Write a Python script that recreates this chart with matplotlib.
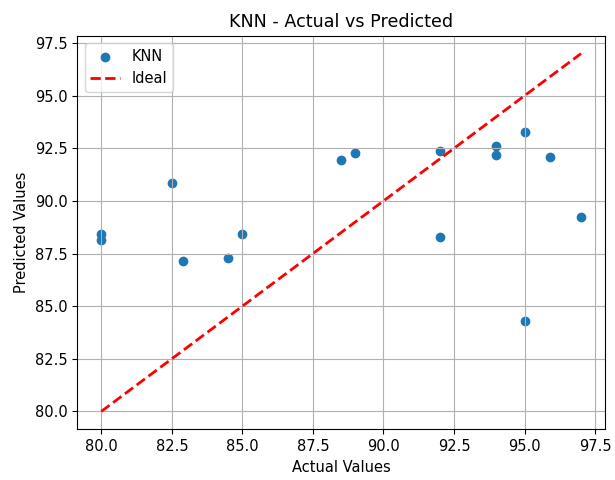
import matplotlib
matplotlib.use("Agg")
import matplotlib.pyplot as plt
import numpy as np

actual = [80.0, 80.0, 82.5, 82.9, 84.5, 85.0, 88.5, 89.0, 92.0, 92.0,
          94.0, 94.0, 95.0, 95.0, 95.9, 97.0]
predicted = [88.45, 88.14, 90.85, 87.13, 87.29, 88.44, 91.96, 92.30, 92.35, 88.28,
             92.59, 92.16, 93.28, 84.30, 92.11, 89.24]

plt.rcParams['font.size'] = 10.5

fig = plt.figure(figsize=(6.15, 4.8), dpi=100)
ax = fig.add_axes([0.1257, 0.1056, 0.9837 - 0.1257, 0.9256 - 0.1056])

ax.scatter(actual, predicted, label="KNN")
lo, hi = min(actual), max(actual)
ax.plot([lo, hi], [lo, hi], "r--", lw=2, label="Ideal")
ax.set_title("KNN - Actual vs Predicted")
ax.set_xlabel("Actual Values")
ax.set_ylabel("Predicted Values")
ax.legend(loc="upper left")
ax.grid(True)

fig.savefig("out.png", dpi=100)
